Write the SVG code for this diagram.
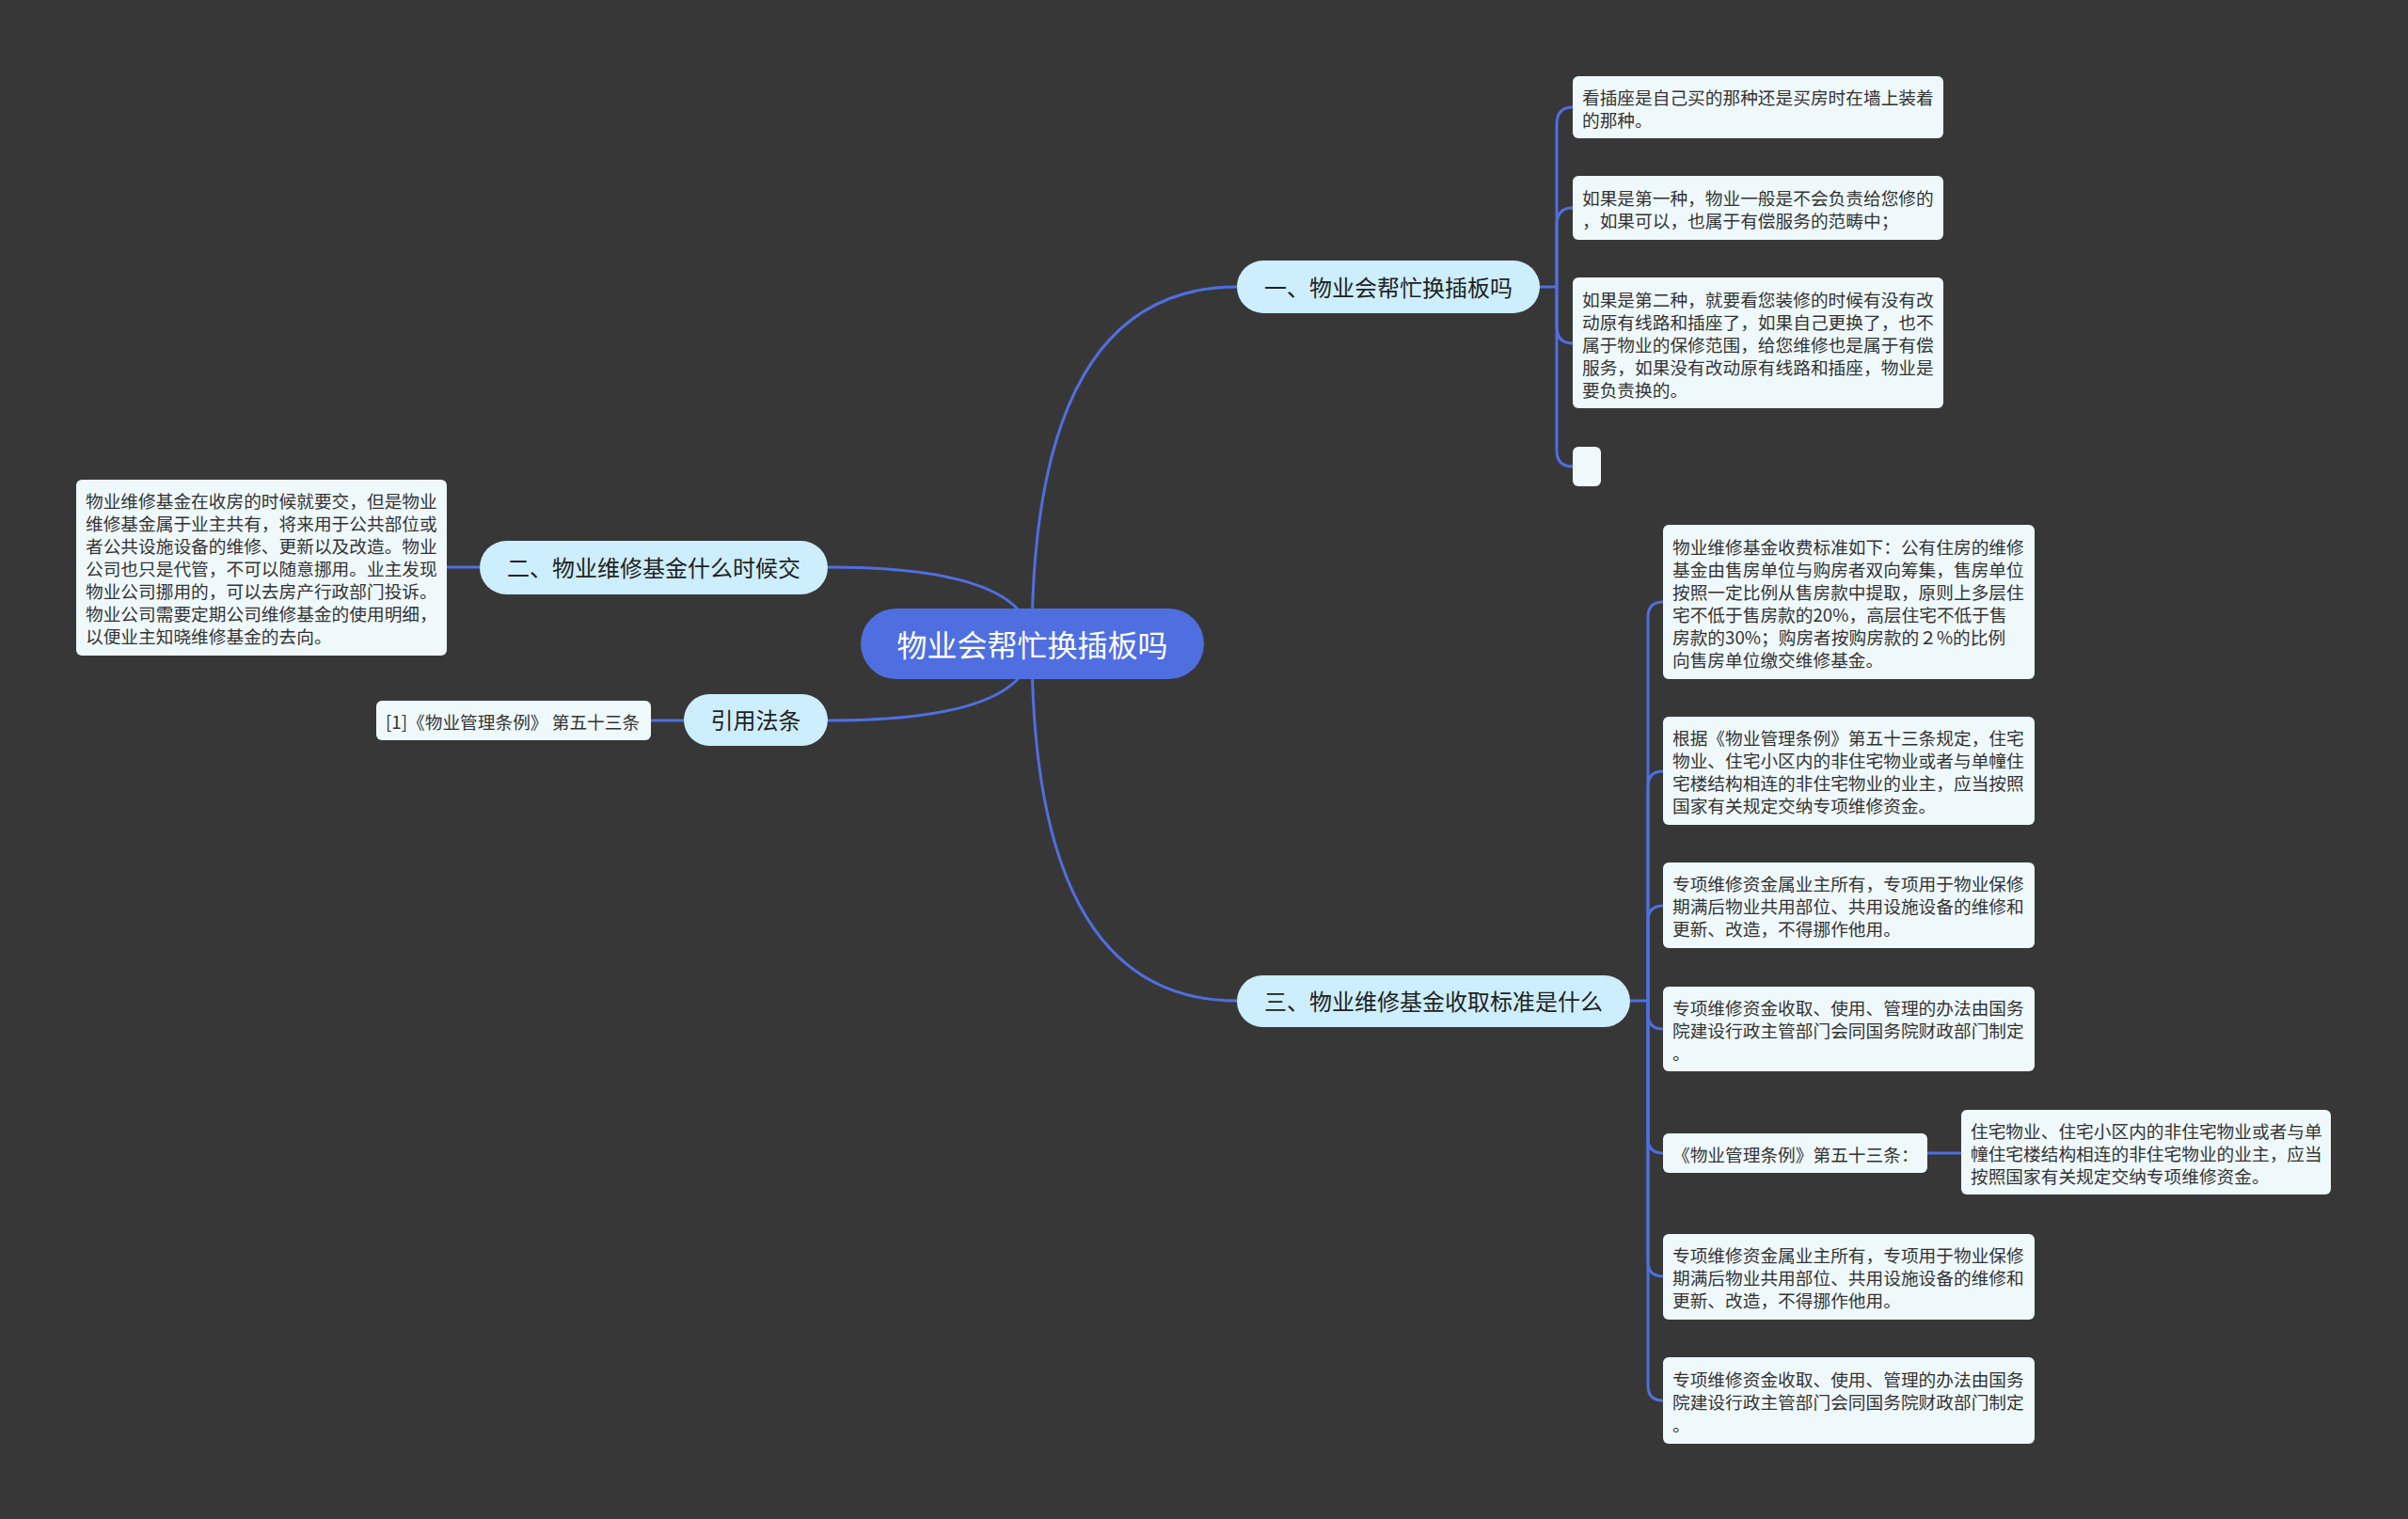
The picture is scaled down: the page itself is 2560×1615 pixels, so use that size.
<svg xmlns="http://www.w3.org/2000/svg" width="2560" height="1615" viewBox="0 0 2560 1615">
<style>
.bg{fill:#383737}
.ln{fill:none;stroke:#4f6fe0;stroke-width:3}
.root{fill:#4f6fe0}
.br{fill:#cdeefc}
.lf{fill:#eff9fb}
text{font-family:"Noto Sans CJK SC","Noto Sans",sans-serif;dominant-baseline:central}
.rt{font-size:32px;fill:#ffffff;text-anchor:middle}
.bt{font-size:24px;fill:#222222;text-anchor:middle}
.lt{font-size:18.7px;fill:#333333}
</style>
<rect class="bg" x="0" y="0" width="2560" height="1615"/>
<g id="connectors">
<path class="ln" d="M1097 685 Q1097 305 1315 305"/>
<path class="ln" d="M1097 685 Q1097 1064 1315 1064"/>
<path class="ln" d="M1097 685 Q1097 603 880 603"/>
<path class="ln" d="M1097 685 Q1097 766 880 766"/>
<path class="ln" d="M510 603 H475"/>
<path class="ln" d="M727 766 H692"/>
<path class="ln" d="M1637 305 H1655"/>
<path class="ln" d="M1655 305 V132 Q1655 114 1672 114"/>
<path class="ln" d="M1655 305 V239 Q1655 221 1672 221"/>
<path class="ln" d="M1655 305 V347 Q1655 365 1672 365"/>
<path class="ln" d="M1655 305 V479 Q1655 496 1672 496"/>
<path class="ln" d="M1733 1064 H1752"/>
<path class="ln" d="M1752 1064 V656 Q1752 640 1768 640"/>
<path class="ln" d="M1752 1064 V836 Q1752 820 1768 820"/>
<path class="ln" d="M1752 1064 V979 Q1752 963 1768 963"/>
<path class="ln" d="M1752 1064 V1078 Q1752 1094 1768 1094"/>
<path class="ln" d="M1752 1064 V1210 Q1752 1226 1768 1226"/>
<path class="ln" d="M1752 1064 V1341 Q1752 1357 1768 1357"/>
<path class="ln" d="M1752 1064 V1473 Q1752 1489 1768 1489"/>
<path class="ln" d="M2049 1226 H2085"/>
</g>
<g id="root">
<rect class="root" x="915" y="647" width="365" height="75" rx="37.5"/>
<text class="rt" x="1097.5" y="683.5">物业会帮忙换插板吗</text>
</g>
<g id="b1">
<rect class="br" x="1315" y="277" width="322" height="56" rx="28"/>
<text class="bt" x="1476" y="304">一、物业会帮忙换插板吗</text>
</g>
<g id="b1c1">
<rect class="lf" x="1672" y="81" width="394" height="66" rx="6"/>
<text class="lt" x="1682" y="102">看插座是自己买的那种还是买房时在墙上装着</text>
<text class="lt" x="1682" y="126">的那种。</text>
</g>
<g id="b1c2">
<rect class="lf" x="1672" y="187" width="394" height="68" rx="6"/>
<text class="lt" x="1682" y="209">如果是第一种，物业一般是不会负责给您修的</text>
<text class="lt" x="1682" y="233">，如果可以，也属于有偿服务的范畴中；</text>
</g>
<g id="b1c3">
<rect class="lf" x="1672" y="295" width="394" height="139" rx="6"/>
<text class="lt" x="1682" y="317">如果是第二种，就要看您装修的时候有没有改</text>
<text class="lt" x="1682" y="341">动原有线路和插座了，如果自己更换了，也不</text>
<text class="lt" x="1682" y="365">属于物业的保修范围，给您维修也是属于有偿</text>
<text class="lt" x="1682" y="389">服务，如果没有改动原有线路和插座，物业是</text>
<text class="lt" x="1682" y="413">要负责换的。</text>
</g>
<g id="b1c4">
<rect class="lf" x="1672" y="475" width="30" height="42" rx="6"/>
</g>
<g id="b2">
<rect class="br" x="510" y="575" width="370" height="57" rx="28.5"/>
<text class="bt" x="695" y="602.5">二、物业维修基金什么时候交</text>
</g>
<g id="b2c1">
<rect class="lf" x="81" y="510" width="394" height="187" rx="6"/>
<text class="lt" x="91" y="531.5">物业维修基金在收房的时候就要交，但是物业</text>
<text class="lt" x="91" y="555.5">维修基金属于业主共有，将来用于公共部位或</text>
<text class="lt" x="91" y="579.5">者公共设施设备的维修、更新以及改造。物业</text>
<text class="lt" x="91" y="603.5">公司也只是代管，不可以随意挪用。业主发现</text>
<text class="lt" x="91" y="627.5">物业公司挪用的，可以去房产行政部门投诉。</text>
<text class="lt" x="91" y="651.5">物业公司需要定期公司维修基金的使用明细，</text>
<text class="lt" x="91" y="675.5">以便业主知晓维修基金的去向。</text>
</g>
<g id="b4">
<rect class="br" x="727" y="738" width="153" height="55" rx="27.5"/>
<text class="bt" x="803.5" y="764.5">引用法条</text>
</g>
<g id="b4c1">
<rect class="lf" x="400" y="745" width="292" height="42" rx="6"/>
<text class="lt" x="410" y="766">[1]《物业管理条例》 第五十三条</text>
</g>
<g id="b3">
<rect class="br" x="1315" y="1037" width="418" height="55" rx="27.5"/>
<text class="bt" x="1524" y="1063.5">三、物业维修基金收取标准是什么</text>
</g>
<g id="b3c1">
<rect class="lf" x="1768" y="558" width="395" height="164" rx="6"/>
<text class="lt" x="1778" y="580">物业维修基金收费标准如下：公有住房的维修</text>
<text class="lt" x="1778" y="604">基金由售房单位与购房者双向筹集，售房单位</text>
<text class="lt" x="1778" y="628">按照一定比例从售房款中提取，原则上多层住</text>
<text class="lt" x="1778" y="652">宅不低于售房款的20%，高层住宅不低于售</text>
<text class="lt" x="1778" y="676">房款的30%；购房者按购房款的２%的比例</text>
<text class="lt" x="1778" y="700">向售房单位缴交维修基金。</text>
</g>
<g id="b3c2">
<rect class="lf" x="1768" y="762" width="395" height="115" rx="6"/>
<text class="lt" x="1778" y="783.5">根据《物业管理条例》第五十三条规定，住宅</text>
<text class="lt" x="1778" y="807.5">物业、住宅小区内的非住宅物业或者与单幢住</text>
<text class="lt" x="1778" y="831.5">宅楼结构相连的非住宅物业的业主，应当按照</text>
<text class="lt" x="1778" y="855.5">国家有关规定交纳专项维修资金。</text>
</g>
<g id="b3c3">
<rect class="lf" x="1768" y="917" width="395" height="91" rx="6"/>
<text class="lt" x="1778" y="938.5">专项维修资金属业主所有，专项用于物业保修</text>
<text class="lt" x="1778" y="962.5">期满后物业共用部位、共用设施设备的维修和</text>
<text class="lt" x="1778" y="986.5">更新、改造，不得挪作他用。</text>
</g>
<g id="b3c4">
<rect class="lf" x="1768" y="1049" width="395" height="90" rx="6"/>
<text class="lt" x="1778" y="1070">专项维修资金收取、使用、管理的办法由国务</text>
<text class="lt" x="1778" y="1094">院建设行政主管部门会同国务院财政部门制定</text>
<text class="lt" x="1778" y="1118">。</text>
</g>
<g id="b3c5">
<rect class="lf" x="1768" y="1205" width="281" height="42" rx="6"/>
<text class="lt" x="1778" y="1226">《物业管理条例》第五十三条：</text>
</g>
<g id="b3c5c1">
<rect class="lf" x="2085" y="1180" width="393" height="90" rx="6"/>
<text class="lt" x="2095" y="1201">住宅物业、住宅小区内的非住宅物业或者与单</text>
<text class="lt" x="2095" y="1225">幢住宅楼结构相连的非住宅物业的业主，应当</text>
<text class="lt" x="2095" y="1249">按照国家有关规定交纳专项维修资金。</text>
</g>
<g id="b3c6">
<rect class="lf" x="1768" y="1312" width="395" height="91" rx="6"/>
<text class="lt" x="1778" y="1333.5">专项维修资金属业主所有，专项用于物业保修</text>
<text class="lt" x="1778" y="1357.5">期满后物业共用部位、共用设施设备的维修和</text>
<text class="lt" x="1778" y="1381.5">更新、改造，不得挪作他用。</text>
</g>
<g id="b3c7">
<rect class="lf" x="1768" y="1443" width="395" height="92" rx="6"/>
<text class="lt" x="1778" y="1465">专项维修资金收取、使用、管理的办法由国务</text>
<text class="lt" x="1778" y="1489">院建设行政主管部门会同国务院财政部门制定</text>
<text class="lt" x="1778" y="1513">。</text>
</g>
</svg>
